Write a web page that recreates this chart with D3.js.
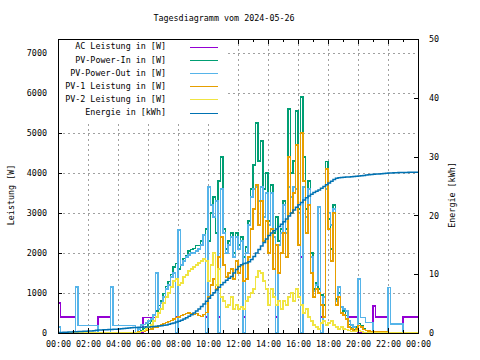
<!DOCTYPE html>
<html><head><meta charset="utf-8">
<script src="https://cdn.jsdelivr.net/npm/d3@7/dist/d3.min.js"></script>
<style>
html,body{margin:0;padding:0;background:#fff;}
text{font-family:"DejaVu Sans Mono",monospace;font-size:8.4px;fill:#000;}
</style></head>
<body><svg id="c" width="480" height="360"></svg>
<script>
const title = "Tagesdiagramm vom 2024-05-26";
const leftLabel = "Leistung [W]";
const rightLabel = "Energie [kWh]";
const xTickHours = [0,2,4,6,8,10,12,14,16,18,20,22,24];
const xTickLabels = ["00:00","02:00","04:00","06:00","08:00","10:00","12:00","14:00","16:00","18:00","20:00","22:00","00:00"];
const leftTicks = [0,1000,2000,3000,4000,5000,6000,7000];
const rightTicks = [0,10,20,30,40,50];
const seriesNames = ["AC Leistung in [W]","PV-Power-In in [W]","PV-Power-Out in [W]","PV-1 Leistung in [W]","PV-2 Leistung in [W]","Energie in [kWh]"];
const seriesColors = ["#9400d3","#009e73","#56b4e9","#e69f00","#f0e442","#0072b2"];

// sample grid: every 10 minutes, 00:00 .. 24:00
const stepMinutes = 10;
const hours = d3.range(0, 24*60 + 1, stepMinutes).map(m => m / 60);

const acPower = [
750,400,400,400,400,400, 400,0,0,0,0,0, 0,0,0,0,400,400, 400,400,400,0,0,0,
0,0,0,0,0,0, 0,0,0,0,390,390, 390,390,390,1500,600,750, 900,1100,1200,1400,1500,400,
2575,1700,1800,1900,1950,2000, 2000,2050,2100,2200,2450,400, 3650,3200,2900,3300,400,3600, 2500,2000,2200,2400,1900,2400,
2100,2300,400,2000,2700,3400, 3600,3650,3300,3650,2900,3500, 2700,3500,2400,400,2200,2500, 3200,2500,3650,3400,3650,3600,
3000,1900,3650,2900,3600,1900, 1050,1200,3150,400,900,3600, 3000,2700,3100,800,1150,650, 600,550,400,400,400,400,
0,0,0,0,0,0, 675,400,400,400,400,400, 0,0,0,0,0,0, 400,400,400,400,400,400,
400];

const pvIn = [
0,0,0,0,0,0, 0,0,0,0,0,0, 0,0,0,0,0,0, 0,0,0,0,0,0,
0,0,0,0,0,0, 0,20,40,70,110,160, 230,300,430,550,680,800, 980,1160,1290,1470,1650,1730,
1600,1680,1870,1940,2050,2090, 2110,2180,2190,2300,2450,2600, 2300,3000,3400,2500,3800,4400, 2600,2100,2300,2500,2000,2500,
2200,2400,1900,2150,2800,3600, 4200,5250,4300,4800,3600,4000, 2800,3700,2500,2900,2300,2600, 3300,2600,5600,4000,4300,5550,
3100,5900,4400,3100,3800,2000, 1100,1250,1100,950,700,4280, 2850,2100,3200,850,1000,650, 550,430,210,140,80,150,
240,180,100,70,50,40, 30,30,30,30,30,30, 0,0,0,0,0,0, 0,0,0,0,0,0,
0];

const pvOut = [
150,0,0,0,0,0, 0,1150,190,190,190,190, 190,190,190,190,0,0, 0,0,0,1150,190,190,
190,190,190,190,190,190, 190,0,100,200,220,250, 300,350,450,1500,600,750, 900,1100,1200,1400,1500,0,
2575,1700,1800,1900,1950,2000, 2000,2050,2100,2200,2450,0, 3650,3200,2900,3300,0,3600, 2500,2000,2200,2400,1900,2400,
2100,2300,0,2000,2700,3400, 3600,3650,3300,3650,2900,3500, 2700,3500,2400,0,2200,2500, 3200,2500,3650,3400,3650,3600,
3000,0,3650,2900,3600,1900, 1050,1200,3150,0,900,3600, 3000,2700,3100,800,1150,650, 600,550,300,200,150,100,
1350,380,380,260,260,260, 0,0,0,0,0,0, 1140,225,225,225,225,225, 0,0,0,0,0,0,
0];

const pv1 = [
0,0,0,0,0,0, 0,0,0,0,0,0, 0,0,0,0,0,0, 0,0,0,0,0,0,
0,0,0,0,0,0, 0,20,30,40,50,60, 80,100,130,150,180,200, 230,260,290,320,350,380,
400,430,470,490,500,490, 460,480,440,420,470,520, 900,1200,1350,1100,1900,2400, 1700,1400,1500,1600,1350,1800,
1500,1700,1300,1350,1900,2600, 3100,3700,2700,3300,2300,2800, 2000,2600,1600,2200,1500,2000, 2500,1900,4400,3000,3500,4700,
2200,5000,3800,2500,3200,1500, 900,1100,1000,700,400,4100, 2600,1800,3000,700,900,500, 450,350,150,100,50,100,
180,150,80,60,50,40, 30,30,30,30,30,30, 0,0,0,0,0,0, 0,0,0,0,0,0,
0];

const pv2 = [
0,0,0,0,0,0, 0,0,0,0,0,0, 0,0,0,0,0,0, 0,0,0,0,0,0,
0,0,0,0,0,0, 0,0,10,30,60,100, 150,200,300,400,500,600, 750,900,1000,1150,1300,1350,
1200,1250,1400,1450,1550,1600, 1650,1700,1750,1800,1850,1800, 1300,1700,2000,1200,1600,900, 800,650,700,900,600,700,
600,650,600,800,900,1000, 1100,1400,1550,1500,1300,1100, 700,1100,900,700,800,600, 800,700,900,1000,800,1100,
900,700,500,600,400,300, 200,150,100,250,300,200, 250,300,200,150,100,150, 100,80,60,40,30,50,
60,30,20,10,0,0, 0,0,0,0,0,0, 0,0,0,0,0,0, 0,0,0,0,0,0,
0];

const energy = [
0.10,0.10,0.12,0.14,0.16,0.18, 0.20,0.22,0.24,0.26,0.28,0.30, 0.34,0.36,0.40,0.46,0.50,0.52, 0.54,0.56,0.58,0.60,0.62,0.64,
0.68,0.72,0.76,0.80,0.84,0.88, 0.92,0.94,0.96,0.98,1.00,1.02, 1.04,1.06,1.10,1.14,1.18,1.24, 1.30,1.38,1.48,1.60,1.72,1.86,
2.00,2.18,2.38,2.60,2.84,3.10, 3.40,3.74,4.10,4.50,4.94,5.40, 5.90,6.40,6.86,7.30,7.80,8.20, 8.60,8.96,9.30,9.60,10.20,10.80,
11.30,11.60,11.80,11.90,12.10,12.50, 13.00,13.60,14.20,14.80,15.40,16.00, 16.60,17.00,17.40,17.70,18.10,18.50, 18.90,19.40,19.90,20.40,20.90,21.40,
21.80,22.20,22.60,23.00,23.30,23.60, 23.90,24.10,24.30,24.60,24.90,25.20, 25.50,25.80,26.10,26.30,26.40,26.45, 26.50,26.52,26.55,26.58,26.62,26.66,
26.70,26.75,26.80,26.85,26.90,26.95, 27.00,27.03,27.06,27.10,27.13,27.16, 27.20,27.22,27.24,27.26,27.28,27.30, 27.30,27.31,27.32,27.33,27.34,27.35,
27.35];

const svg = d3.select("#c");
const L = 58, R = 418, T = 39, B = 333;
const x = d3.scaleLinear().domain([0, 24]).range([L, R]);
const y = d3.scaleLinear().domain([0, 7350]).range([B, T]);
const y2 = d3.scaleLinear().domain([0, 50]).range([B, T]);

svg.append("rect").attr("width",480).attr("height",360).attr("fill","#fff");

// grid
const grid = svg.append("g").attr("stroke","#a0a0a0").attr("stroke-dasharray","2,3").attr("shape-rendering","crispEdges");
xTickHours.filter(h => h > 0 && h < 24).forEach(h => {
  grid.append("line").attr("x1", Math.round(x(h))+0.5).attr("x2", Math.round(x(h))+0.5).attr("y1", T).attr("y2", B);
});
leftTicks.filter(v => v > 0).forEach(v => {
  grid.append("line").attr("x1", L).attr("x2", R).attr("y1", Math.round(y(v))+0.5).attr("y2", Math.round(y(v))+0.5);
});

// data
svg.append("clipPath").attr("id","clip").append("rect").attr("x",L).attr("y",T).attr("width",R-L).attr("height",B-T+1);
const plot = svg.append("g").attr("clip-path","url(#clip)");
const powerSeries = [acPower, pvIn, pvOut, pv1, pv2];
powerSeries.forEach((s, k) => {
  const ln = d3.line().x((d,i) => x(hours[i])).y(d => y(d)).curve(d3.curveStepAfter);
  plot.append("path").attr("d", ln(s)).attr("fill","none").attr("stroke", seriesColors[k])
    .attr("stroke-width", 1.2).attr("shape-rendering","crispEdges");
});
const eln = d3.line().x((d,i) => x(hours[i])).y(d => y2(d)).curve(d3.curveStepAfter);
plot.append("path").attr("d", eln(energy)).attr("fill","none").attr("stroke", seriesColors[5])
  .attr("stroke-width", 1.5);

// axes
const axL = svg.append("g").attr("transform",`translate(${L},0)`)
  .call(d3.axisLeft(y).tickValues(leftTicks).tickFormat(d3.format("d")).tickSizeInner(-4).tickSizeOuter(0).tickPadding(11));
const axR = svg.append("g").attr("transform",`translate(${R},0)`)
  .call(d3.axisRight(y2).tickValues(rightTicks).tickFormat(d3.format("d")).tickSizeInner(-4).tickSizeOuter(0).tickPadding(11));
const axB = svg.append("g").attr("transform",`translate(0,${B})`)
  .call(d3.axisBottom(x).tickValues(xTickHours).tickFormat((d,i) => xTickLabels[i]).tickSizeInner(-5).tickSizeOuter(0).tickPadding(8));
const axT = svg.append("g").attr("transform",`translate(0,${T})`)
  .call(d3.axisTop(x).tickValues(xTickHours).tickFormat("").tickSizeInner(-5).tickSizeOuter(0));
[axL, axR, axB, axT].forEach(a => {
  a.select(".domain").remove();
  a.selectAll("text").attr("font-family", null).attr("font-size", null);
  a.selectAll("line").attr("stroke","#000").attr("shape-rendering","crispEdges");
});
// minor hour ticks
const minorHours = d3.range(1, 24, 2);
minorHours.forEach(h => {
  svg.append("line").attr("x1", x(h)).attr("x2", x(h)).attr("y1", B).attr("y2", B-3).attr("stroke","#000").attr("shape-rendering","crispEdges");
  svg.append("line").attr("x1", x(h)).attr("x2", x(h)).attr("y1", T).attr("y2", T+3).attr("stroke","#000").attr("shape-rendering","crispEdges");
});

// border
svg.append("rect").attr("x", L+0.5).attr("y", T+0.5).attr("width", R-L).attr("height", B-T)
  .attr("fill","none").attr("stroke","#000").attr("stroke-width",1).attr("shape-rendering","crispEdges");

// legend (opaque)
svg.append("rect").attr("x", L+1).attr("y", T+1).attr("width", 166).attr("height", 82).attr("fill","#fff");
seriesNames.forEach((n, k) => {
  const yy = 46.5 + k * 13.2;
  svg.append("text").attr("x", 166).attr("y", yy).attr("dy","0.35em").attr("text-anchor","end").text(n);
  svg.append("line").attr("x1", 190).attr("x2", 218).attr("y1", Math.round(yy)+0.5).attr("y2", Math.round(yy)+0.5)
    .attr("stroke", seriesColors[k]).attr("stroke-width", 1).attr("shape-rendering","crispEdges");
});

// titles
svg.append("text").attr("x", 224).attr("y", 21).attr("text-anchor","middle").text(title);
svg.append("text").attr("transform","translate(11,195) rotate(-90)").attr("text-anchor","middle").attr("dy","0.35em").text(leftLabel);
svg.append("text").attr("transform","translate(452,195) rotate(-90)").attr("text-anchor","middle").attr("dy","0.35em").text(rightLabel);
</script></body></html>
